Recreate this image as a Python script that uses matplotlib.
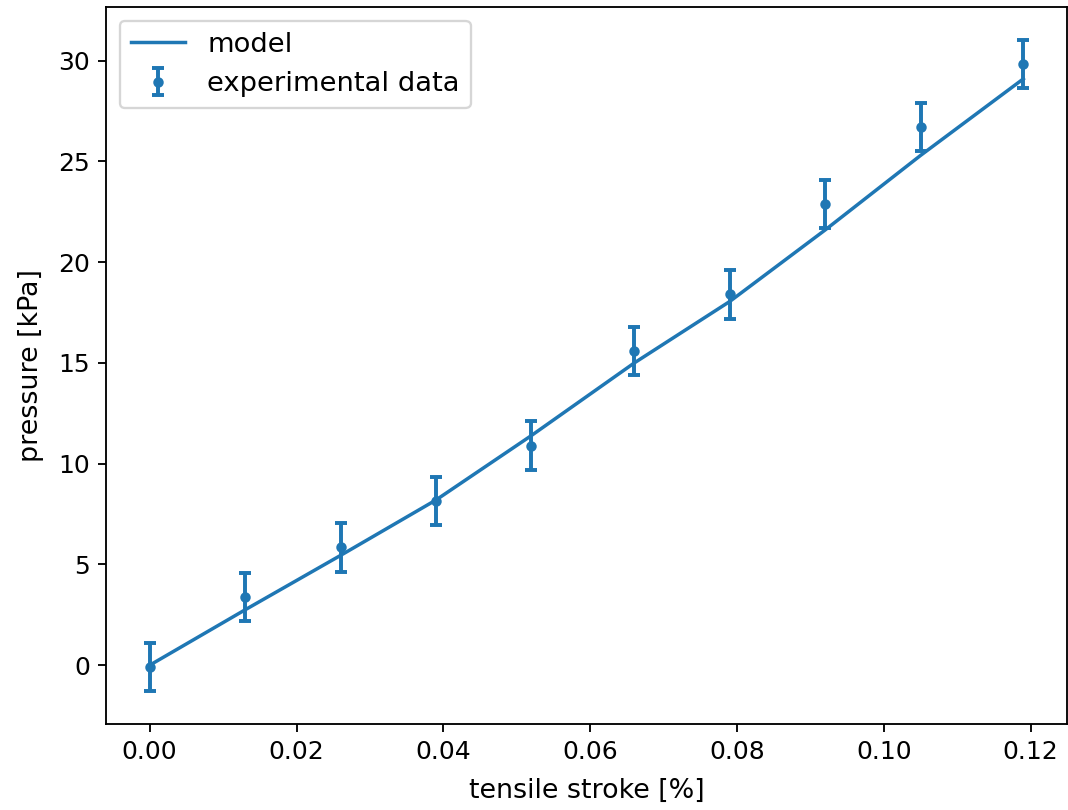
import matplotlib
matplotlib.use('Agg')
import matplotlib.pyplot as plt

# measured points
stroke = [0.0, 0.013, 0.026, 0.039, 0.052, 0.066, 0.079, 0.092, 0.105, 0.119]
pressure = [-0.1, 3.4, 5.85, 8.15, 10.9, 15.6, 18.4, 22.9, 26.7, 29.85]
pressure_err = [1.2, 1.2, 1.2, 1.2, 1.2, 1.2, 1.2, 1.2, 1.2, 1.2]

# model curve
model = [0.0, 2.75, 5.45, 8.2, 11.4, 15.0, 18.05, 21.6, 25.3, 29.1]

fig = plt.figure(figsize=(6.4, 810 / 166.875), dpi=166.875)
ax = fig.add_axes([106 / 1068, 86 / 810, 961 / 1068, 717 / 810])

ax.plot(stroke, model, label='model')
ax.errorbar(stroke, pressure, yerr=pressure_err, fmt='.', markersize=7,
            capsize=2.5, elinewidth=1.7, capthick=1.7,
            color='C0', label='experimental data')

ax.tick_params(labelsize=10.8)
ax.set_xlabel('tensile stroke [%]', fontsize=11.6, labelpad=6)
ax.set_ylabel('pressure [kPa]', fontsize=11.6, labelpad=6)
ax.legend(loc='upper left', fontsize=11.8)

fig.savefig('out.png', dpi=166.875)
